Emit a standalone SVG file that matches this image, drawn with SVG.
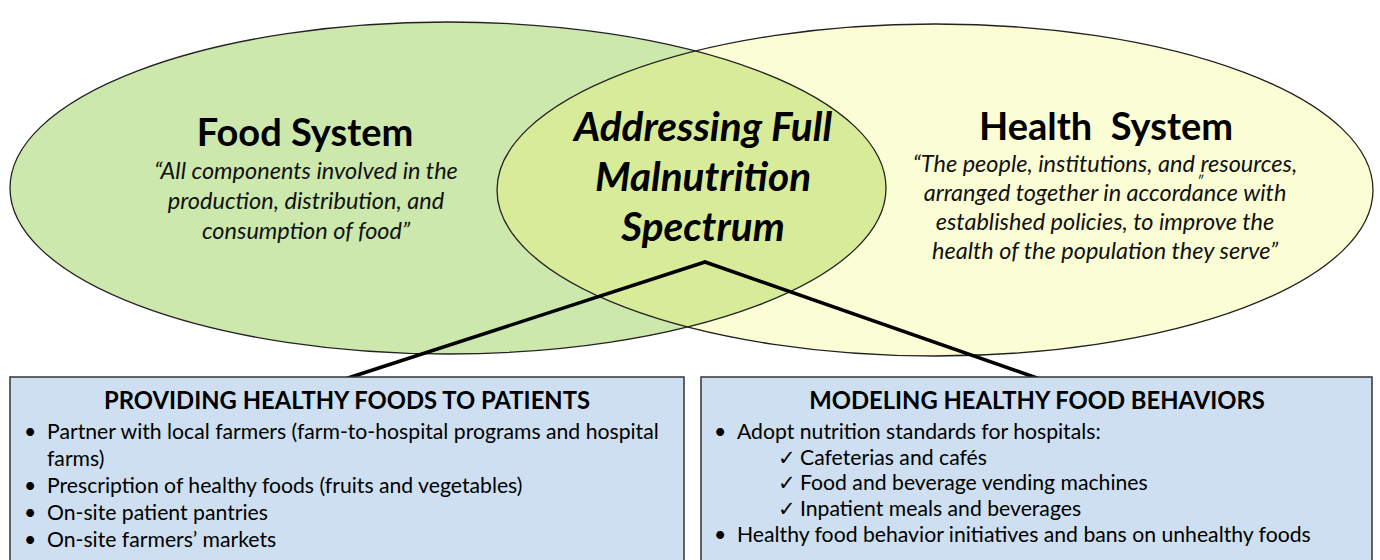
<svg xmlns="http://www.w3.org/2000/svg" width="1380" height="560" viewBox="0 0 1380 560">
<style>
.t{font-family:Lato,"Liberation Sans",sans-serif;fill:#000}
.h{font-weight:bold;font-size:38px;text-anchor:middle}
.q{font-style:italic;font-size:23.5px;text-anchor:middle;fill:#111}
.c{font-weight:bold;font-style:italic;font-size:40.5px;text-anchor:middle}
.bt{font-weight:bold;font-size:23.8px;text-anchor:middle}
.b{font-size:21.2px}
.box{fill:#cddff0;stroke:#333;stroke-width:1.5}
.el{fill:none;stroke:#222;stroke-width:1.3}
.ln{stroke:#000;stroke-width:3.5;fill:none;stroke-linecap:round}
</style>
<defs>
<clipPath id="lensclip"><ellipse cx="448" cy="188" rx="438" ry="166"/></clipPath>
</defs>
<rect width="1380" height="560" fill="#fff"/>
<g id="food-system">
<ellipse cx="448" cy="188" rx="438" ry="166" fill="#cde8ad"/>
</g>
<g id="health-system">
<ellipse cx="935" cy="190" rx="438" ry="166" fill="#fbfdd5"/>
</g>
<g id="overlap">
<ellipse cx="935" cy="190" rx="438" ry="166" fill="#d7eb98" clip-path="url(#lensclip)"/>
</g>
<ellipse class="el" cx="448" cy="188" rx="438" ry="166"/>
<ellipse class="el" cx="935" cy="190" rx="438" ry="166"/>
<g id="food-text">
<text class="t h" x="305" y="146">Food System</text>
<text class="t q" x="306" y="179">“All components involved in the</text>
<text class="t q" x="306" y="209">production, distribution, and</text>
<text class="t q" x="306" y="239">consumption of food”</text>
</g>
<g id="health-text">
<text class="t h" x="1106" y="140" xml:space="preserve">Health  System</text>
<text class="t q" x="1105" y="172">“The people, institutions, and resources,</text>
<text class="t q" x="1105" y="201">arranged together in accordance with</text>
<text class="t q" x="1105" y="230">established policies, to improve the</text>
<text class="t q" x="1105" y="259">health of the population they serve”</text>
<text class="t" x="1197" y="186" font-size="13" font-style="italic">″</text>
</g>
<g id="center-text">
<text class="t c" x="703" y="141">Addressing Full</text>
<text class="t c" x="703" y="191">Malnutrition</text>
<text class="t c" x="703" y="241">Spectrum</text>
</g>
<g id="connectors">
<path class="ln" d="M705 262 L348 378"/>
<path class="ln" d="M705 262 L1037 378"/>
</g>
<g id="providing">
<rect class="box" x="10" y="377" width="674" height="200"/>
<text class="t bt" x="347" y="409">PROVIDING HEALTHY FOODS TO PATIENTS</text>
<text class="t b" x="24" y="439">•</text><text class="t b" x="47" y="439">Partner with local farmers (farm-to-hospital programs and hospital</text>
<text class="t b" x="47" y="466">farms)</text>
<text class="t b" x="24" y="493">•</text><text class="t b" x="47" y="493">Prescription of healthy foods (fruits and vegetables)</text>
<text class="t b" x="24" y="520">•</text><text class="t b" x="47" y="520">On-site patient pantries</text>
<text class="t b" x="24" y="547">•</text><text class="t b" x="47" y="547">On-site farmers’ markets</text>
</g>
<g id="modeling">
<rect class="box" x="701" y="377" width="671" height="200"/>
<text class="t bt" x="1037" y="409">MODELING HEALTHY FOOD BEHAVIORS</text>
<text class="t b" x="714" y="439">•</text><text class="t b" x="737" y="439">Adopt nutrition standards for hospitals:</text>
<text class="t b" x="778" y="465">✓</text><text class="t b" x="800" y="465">Cafeterias and cafés</text>
<text class="t b" x="778" y="490">✓</text><text class="t b" x="800" y="490">Food and beverage vending machines</text>
<text class="t b" x="778" y="516">✓</text><text class="t b" x="800" y="516">Inpatient meals and beverages</text>
<text class="t b" x="714" y="542">•</text><text class="t b" x="737" y="542">Healthy food behavior initiatives and bans on unhealthy foods</text>
</g>
</svg>
